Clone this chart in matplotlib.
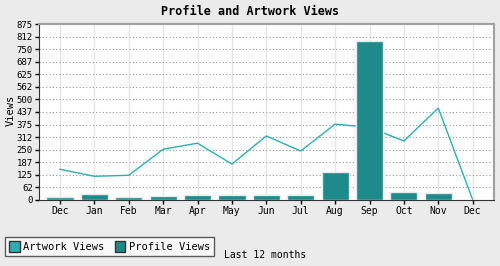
import numpy as np
import matplotlib
matplotlib.use('Agg')
import matplotlib.pyplot as plt
from matplotlib.patches import Patch

# data
months = ['Dec', 'Jan', 'Feb', 'Mar', 'Apr', 'May', 'Jun', 'Jul', 'Aug', 'Sep', 'Oct', 'Nov', 'Dec']
artwork_views = [152, 117, 122, 252, 282, 178, 318, 243, 377, 361, 293, 457, 0]
profile_views = [15, 30, 15, 20, 25, 25, 25, 25, 137, 793, 40, 35, 0]
y_ticks = [i * 62.5 for i in range(15)]

art_color = '#2ab0b0'
prof_color = '#1e8a8a'

plt.rcParams['font.family'] = ['DejaVu Sans Mono']

fig = plt.figure(figsize=(5, 2.66), dpi=100, facecolor='#ebebeb')
ax = fig.add_axes([0.078, 0.249, 0.91, 0.66])
ax.set_facecolor('white')

x = np.arange(len(months))

# grid
for xi in x:
    ax.axvline(xi, color='#e6e6e6', lw=1, zorder=0)
for yt in y_ticks[1:]:
    ax.axhline(yt, color='#999999', lw=0.8, ls=(0, (1, 2)), zorder=0)

ax.plot(x, artwork_views, color=art_color, lw=1, zorder=2)
ax.bar(x, profile_views, width=0.79, color=prof_color, edgecolor='#e8e8e8', lw=1, zorder=3)

ax.set_xlim(-0.61, 12.62)
ax.set_ylim(0, 875)
ax.set_xticks(x)
ax.set_xticklabels(months, fontsize=7)
ax.set_yticks(y_ticks)
ax.set_yticklabels([str(int(v)) for v in y_ticks], fontsize=6.5)
ax.tick_params(length=3, width=1, pad=1.5)

for side in ['top', 'right']:
    ax.spines[side].set_color('#a0a0a0')
    ax.spines[side].set_linewidth(1.5)
for side in ['left', 'bottom']:
    ax.spines[side].set_color('#333333')

fig.text(0.022, 0.585, 'Views', rotation=90, ha='center', va='center', fontsize=7.5)
fig.text(0.5, 0.955, 'Profile and Artwork Views', ha='center', va='center',
         fontsize=8.5, fontweight='bold')

handles = [Patch(facecolor=art_color, edgecolor='#333333', label='Artwork Views'),
           Patch(facecolor=prof_color, edgecolor='#333333', label='Profile Views')]
leg = fig.legend(handles=handles, loc='lower left', bbox_to_anchor=(0.01, 0.038),
                 ncol=2, fontsize=7.5, frameon=True, fancybox=False,
                 handlelength=1.0, handleheight=1.2, handletextpad=0.35,
                 columnspacing=1.0, borderpad=0.4, borderaxespad=0)
leg.get_frame().set_edgecolor('#333333')
leg.get_frame().set_facecolor('white')
leg.get_frame().set_linewidth(1)

fig.text(0.448, 0.041, 'Last 12 months', ha='left', va='center', fontsize=7)

plt.savefig('out.png', dpi=100, facecolor=fig.get_facecolor())
plt.close()
